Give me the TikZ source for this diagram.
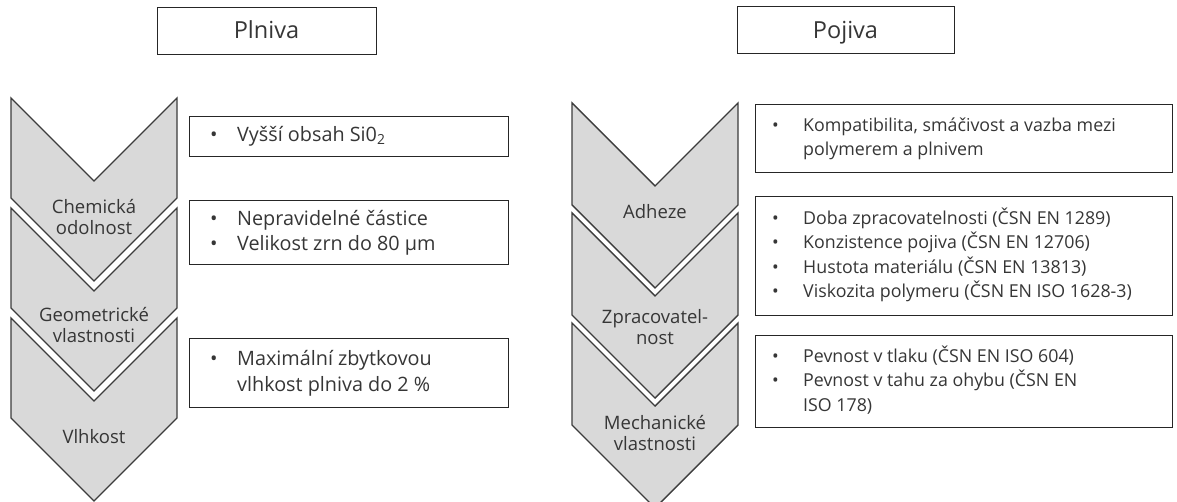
\documentclass[tikz,border=0pt]{standalone}
\usepackage{fontspec}
\setmainfont{Open Sans}
\definecolor{txt}{HTML}{363636}
\definecolor{chevfill}{HTML}{D9D9D9}
\definecolor{chevline}{HTML}{3C3C3C}
\definecolor{boxline}{HTML}{262626}
% bullet followed by a fixed indent
\newcommand\bl[1][27pt]{\makebox[#1][l]{\textbullet}}
% one chevron: left x, top y, side length
\newcommand\chevronat[3]{%
  \draw[chev] (#1,#2) -- ++(83,83) -- ++(83,-83) -- ++(0,#3)
    -- ++(-83,83) -- ++(-83,-83) -- cycle;}
\begin{document}
\begin{tikzpicture}[x=1pt,y=-1pt,
  chev/.style={fill=chevfill,draw=chevline,line width=1.4pt,line join=miter},
  frame/.style={draw=boxline,line width=1.4pt,fill=white,inner sep=0pt,anchor=north west},
  title/.style={text=txt,anchor=base,inner sep=0pt,font=\fontsize{23.5}{28}\selectfont},
  chevlabel/.style={text=txt,align=center,font=\fontsize{18.5}{20.5}\selectfont},
  leftlist/.style={text=txt,inner sep=0pt,anchor=west,font=\fontsize{19.8}{25.5}\selectfont},
  rightlist/.style={text=txt,inner sep=0pt,anchor=west,font=\fontsize{17.8}{24.5}\selectfont},
]
\useasboundingbox (0,0) rectangle (1177,502);

% headings
\node[frame,minimum width=219pt,minimum height=47pt] (hl) at (157,7) {};
\node[title] (hlt) at (266.5,39) {Plniva};
\node[frame,minimum width=217pt,minimum height=47pt] (hr) at (737,6) {};
\node[title] (hrt) at (845.5,38.5) {Pojiva};

% left chevron column
\chevronat{11}{98}{100}
\chevronat{11}{208}{100}
\chevronat{11}{318}{100}
\node[chevlabel] (cl1) at (94,217) {Chemická\\odolnost};
\node[chevlabel] (cl2) at (94,325) {Geometrické\\vlastnosti};
\node[chevlabel] (cl3) at (94,437) {Vlhkost};

% right chevron column
\chevronat{572}{103}{102}
\chevronat{572}{213}{102}
\chevronat{572}{323}{102}
\node[chevlabel] (cr1) at (655,212) {Adheze};
\node[chevlabel] (cr2) at (655,327) {Zpracovatel-\\nost};
\node[chevlabel] (cr3) at (655,433) {Mechanické\\vlastnosti};

% left text boxes
\node[frame,minimum width=319pt,minimum height=40pt] (lb1) at (189,116) {};
\node[frame,minimum width=319pt,minimum height=64pt] (lb2) at (189,200) {};
\node[frame,minimum width=319pt,minimum height=69pt] (lb3) at (189,338) {};
\node[leftlist] (lt1) at ([xshift=21pt]lb1.west)
  {\begin{tabular}{@{}l@{}l@{}}\bl & Vyšší obsah Si0\textsubscript{2}\end{tabular}};
\node[leftlist] (lt2) at ([xshift=21pt]lb2.west)
  {\begin{tabular}{@{}l@{}l@{}}\bl & Nepravidelné částice\\ \bl & Velikost zrn do 80 µm\end{tabular}};
\node[leftlist] (lt3) at ([xshift=21pt]lb3.west)
  {\begin{tabular}{@{}l@{}l@{}}\bl & Maximální zbytkovou\\ & vlhkost plniva do 2 \%\end{tabular}};

% right text boxes
\node[frame,minimum width=417pt,minimum height=68pt] (rb1) at (755,104) {};
\node[frame,minimum width=417pt,minimum height=119pt] (rb2) at (755,196) {};
\node[frame,minimum width=417pt,minimum height=92pt] (rb3) at (755,335) {};
\node[rightlist] (rt1) at ([xshift=17pt]rb1.west)
  {\begin{tabular}{@{}l@{}l@{}}\bl[31pt] & Kompatibilita, smáčivost a vazba mezi\\ & polymerem a plnivem\end{tabular}};
\node[rightlist] (rt2) at ([xshift=17pt]rb2.west)
  {\begin{tabular}{@{}l@{}l@{}}\bl[31pt] & Doba zpracovatelnosti (ČSN EN 1289)\\
    \bl[31pt] & Konzistence pojiva (ČSN EN 12706)\\
    \bl[31pt] & Hustota materiálu (ČSN EN 13813)\\
    \bl[31pt] & Viskozita polymeru (ČSN EN ISO 1628-3)\end{tabular}};
\node[rightlist] (rt3) at ([xshift=17pt]rb3.west)
  {\begin{tabular}{@{}l@{}l@{}}\bl[31pt] & Pevnost v tlaku (ČSN EN ISO 604)\\
    \bl[31pt] & Pevnost v tahu za ohybu (ČSN EN\\ & ISO 178)\end{tabular}};
\end{tikzpicture}
\end{document}
